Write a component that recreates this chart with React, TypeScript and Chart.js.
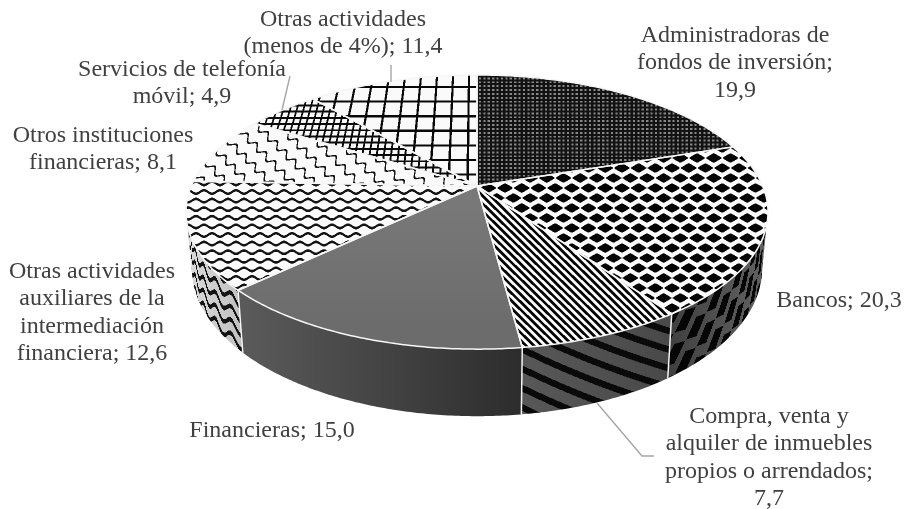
import React, { useEffect, useRef } from "react";
import { Chart, registerables } from "chart.js";

Chart.register(...registerables);

const categories = [
  "Administradoras de fondos de inversión",
  "Bancos",
  "Compra, venta y alquiler de inmuebles propios o arrendados",
  "Financieras",
  "Otras actividades auxiliares de la intermediación financiera",
  "Otros instituciones financieras",
  "Servicios de telefonía móvil",
  "Otras actividades (menos de 4%)",
];
const shares = [19.9, 20.3, 7.7, 15.0, 12.6, 8.1, 4.9, 11.4];
const patternNames = ["dots", "diamonds", "stripes", "solid", "waves", "shingle", "smallGrid", "largeGrid"];
const labelWordCounts = [[2, 3, 1], [2], [3, 3, 3, 1], [2], [2, 3, 1, 2], [2, 2], [3, 2], [2, 5]];
const labelAnchors = [
  [735, 42], [839, 307], [769, 423], [272, 437], [92, 278], [103, 142], [182, 76], [343, 26],
];

const W = 905, H = 509;
const CX = 477, APEX_Y = 186, A = 285.7, B = 96.8, G = 0.19;
const DEPTH = 54.3, SHRINK = 0.98, VANISH = 509;
const TEXT = "#404040", LEADER = "#a6a6a6";
const LEADERS = [
  [[597, 403], [642, 456], [654, 456]],
  [[290, 76], [282, 110]],
  [[391, 65], [391, 82]],
];

const rim = (t: number) => {
  const w = 1 + G * Math.cos(t);
  return { x: CX + (A * Math.sin(t)) / w, y: (APEX_Y - B * Math.cos(t)) / w, w };
};
const rimLow = (t: number) => {
  const p = rim(t);
  return { x: CX + (p.x - CX) * SHRINK, y: p.y + DEPTH / p.w };
};
const mod = (a: number, n: number) => ((a % n) + n) % n;
const wrapDist = (a: number, n: number) => {
  const m = mod(a, n);
  return Math.min(m, n - m);
};

function topInk(kind: string, X: number, Y: number): number {
  const f = (Y + VANISH) / (APEX_Y + VANISH);
  const px = (X - CX) / f;
  switch (kind) {
    case "dots": {
      const dx = wrapDist(X - 480, 4.4), dy = wrapDist(Y - 90, 3.9);
      return dx < 1.1 && dy < 0.95 ? 135 : 18;
    }
    case "diamonds": {
      const row = Math.floor((Y - 198 + 5) / 10);
      const dy = Y - 198 - row * 10;
      const dx = wrapDist(X - 647 - (mod(row, 2) ? 8.35 : 0), 16.7);
      return Math.pow(dx / 8.35, 1.1) + Math.pow(Math.abs(dy) / 5, 1.1) < 0.95 ? 5 : 252;
    }
    case "stripes":
      return mod(X - Y * 1.02, 7.8) < 3.9 ? 5 : 252;
    case "solid":
      return Math.max(108, 122 - (Y - 186) * 0.1);
    case "waves": {
      const row = Math.round((Y - 192) / 8.6);
      const c = 192 + row * 8.6 + 1.7 * Math.sin((2 * Math.PI * (X + (mod(row, 2) ? 8 : 0))) / 16);
      return Math.abs(Y - c) < 1.3 ? 20 : 250;
    }
    case "shingle": {
      const t = (X + Y) * 0.7071, n = (X - Y) * 0.7071;
      const c = wrapDist(n + 3 * Math.sin((2 * Math.PI * t) / 13), 15.5);
      return c < 1.05 ? 20 : 250;
    }
    case "smallGrid": {
      const a = wrapDist(px, 7.5), b = wrapDist(Y, 6.2);
      return a < 1 || b < 0.95 ? 10 : 248;
    }
    case "largeGrid": {
      const a = wrapDist(px + 28.5, 19), b = wrapDist(Y - 87, 14.6);
      return a < 1.25 || b < 1.1 ? 8 : 250;
    }
  }
  return 255;
}

function wallInk(kind: string, X: number, t: number, z: number): number {
  const s = t * 290;
  switch (kind) {
    case "diamonds": {
      const bg = 62 + (X - 665) * 0.35;
      const row = Math.floor((z - s * 0.55) / 20 + 0.5);
      const dz = z - s * 0.55 - row * 20;
      const ds = wrapDist(s + (mod(row, 2) ? 14 : 0), 28);
      return ds / 14 + Math.abs(dz) / 10 < 0.95 ? 6 : bg;
    }
    case "stripes": {
      const bg = 88 - (X - 519) * 0.1;
      return mod(z + s * 0.62, 18) < 6.5 ? 10 : bg;
    }
    case "solid":
      return 90 - ((X - 244) / 275) * 45;
    case "waves": {
      const bg = 218 - (X - 190) * 0.5;
      const row = Math.round(z / 13.5);
      const c = row * 13.5 + 4 * Math.sin((2 * Math.PI * s) / 30);
      return Math.abs(z - c) < 2.3 ? 20 : bg;
    }
  }
  return 128;
}

function buildCanvas(sample: (x: number, y: number) => number, x0: number, y0: number, x1: number, y1: number) {
  const c = document.createElement("canvas");
  c.width = W;
  c.height = H;
  const g = c.getContext("2d")!;
  const img = g.createImageData(W, H);
  for (let y = y0; y < y1; y++) {
    for (let x = x0; x < x1; x++) {
      const v = (sample(x + 0.25, y + 0.25) + sample(x + 0.75, y + 0.25) + sample(x + 0.25, y + 0.75) + sample(x + 0.75, y + 0.75)) / 4;
      const i = (y * W + x) * 4;
      img.data[i] = img.data[i + 1] = img.data[i + 2] = v;
      img.data[i + 3] = 255;
    }
  }
  g.putImageData(img, 0, 0);
  return c;
}

const T_RIGHT = Math.acos(-G);
const T_LEFT = 2 * Math.PI - T_RIGHT;

function wallPatterns(ctx: CanvasRenderingContext2D) {
  const table: number[] = [];
  for (let x = 0; x < W; x++) table.push(-1);
  for (let t = T_RIGHT; t <= T_LEFT; t += 0.0005) {
    const x = Math.round(CX + (rim(t).x - CX) * ((1 + SHRINK) / 2));
    if (x >= 0 && x < W && table[x] < 0) table[x] = t;
  }
  return patternNames.map((kind) => {
    const c = buildCanvas(
      (x, y) => {
        const t = table[Math.floor(x)];
        if (t < 0) return 128;
        const top = rim(t), low = rimLow(t);
        const z = ((y - top.y) / (low.y - top.y)) * 62;
        return wallInk(kind, x, t, z);
      },
      170, 200, 790, 430
    );
    return ctx.createPattern(c, "no-repeat")!;
  });
}

const pie3d = {
  id: "pie3d",
  beforeDatasetDraw(chart: any) {
    const ctx: CanvasRenderingContext2D = chart.ctx;
    const arcs = chart.getDatasetMeta(0).data;
    const walls = chart.data.datasets[0].wallFill as CanvasPattern[];
    const STEP = 0.01;
    const spans = arcs.map((a: any) => [a.startAngle + Math.PI / 2, a.endAngle + Math.PI / 2]);

    ctx.save();
    ctx.lineJoin = "round";
    spans.forEach(([t0, t1]: number[], i: number) => {
      const a = Math.max(t0, T_RIGHT), b = Math.min(t1, T_LEFT);
      if (b <= a) return;
      ctx.beginPath();
      for (let t = a; t < b; t += STEP) {
        const p = rim(t);
        ctx.lineTo(p.x, p.y);
      }
      const e = rim(b);
      ctx.lineTo(e.x, e.y);
      for (let t = b; t > a; t -= STEP) {
        const p = rimLow(t);
        ctx.lineTo(p.x, p.y);
      }
      const l = rimLow(a);
      ctx.lineTo(l.x, l.y);
      ctx.closePath();
      ctx.fillStyle = walls[i];
      ctx.fill();
    });
    ctx.strokeStyle = "#f4f4f4";
    ctx.lineWidth = 1.5;
    spans.forEach(([t0]: number[]) => {
      if (t0 > T_RIGHT && t0 < T_LEFT) {
        const p = rim(t0), q = rimLow(t0);
        ctx.beginPath();
        ctx.moveTo(p.x, p.y);
        ctx.lineTo(q.x, q.y);
        ctx.stroke();
      }
    });
    const face = (t0: number, t1: number) => {
      ctx.beginPath();
      ctx.moveTo(CX, APEX_Y);
      for (let t = t0; t < t1; t += STEP) {
        const p = rim(t);
        ctx.lineTo(p.x, p.y);
      }
      const e = rim(t1);
      ctx.lineTo(e.x, e.y);
      ctx.closePath();
    };
    arcs.forEach((arc: any, i: number) => {
      face(spans[i][0], spans[i][1]);
      ctx.fillStyle = arc.options.backgroundColor;
      ctx.fill();
    });
    arcs.forEach((arc: any, i: number) => {
      face(spans[i][0], spans[i][1]);
      ctx.strokeStyle = arc.options.borderColor;
      ctx.lineWidth = arc.options.borderWidth;
      ctx.stroke();
    });
    ctx.restore();
    return false;
  },
  afterDraw(chart: any) {
    const ctx: CanvasRenderingContext2D = chart.ctx;
    ctx.save();
    ctx.strokeStyle = LEADER;
    ctx.lineWidth = 1.4;
    LEADERS.forEach((pts) => {
      ctx.beginPath();
      pts.forEach(([x, y]) => ctx.lineTo(x, y));
      ctx.stroke();
    });
    ctx.font = '24px "Liberation Serif"';
    ctx.fillStyle = TEXT;
    ctx.textAlign = "center";
    ctx.textBaseline = "alphabetic";
    categories.forEach((name, i) => {
      const words = `${name}; ${shares[i].toFixed(1).replace(".", ",")}`.split(" ");
      let k = 0;
      labelWordCounts[i].forEach((n, row) => {
        const line = words.slice(k, k + n).join(" ");
        k += n;
        ctx.fillText(line, labelAnchors[i][0], labelAnchors[i][1] + row * 27.3);
      });
    });
    ctx.restore();
  },
};

export default function App() {
  const ref = useRef<HTMLCanvasElement>(null);
  useEffect(() => {
    document.body.style.margin = "0";
    const canvas = ref.current!;
    const ctx = canvas.getContext("2d")!;
    const tops = patternNames.map((kind) =>
      ctx.createPattern(buildCanvas((x, y) => topInk(kind, x, y), 180, 70, 775, 355), "no-repeat")!
    );
    const chart: any = new Chart(canvas, {
      type: "pie",
      data: {
        labels: categories,
        datasets: [{ data: shares, backgroundColor: tops as any, borderColor: "#f6f6f6", borderWidth: 1.5, wallFill: wallPatterns(ctx) } as any],
      },
      options: {
        animation: false,
        responsive: false,
        devicePixelRatio: 1,
        events: [],
        plugins: { legend: { display: false }, tooltip: { enabled: false } },
      } as any,
      plugins: [pie3d as any],
    });
    return () => chart.destroy();
  }, []);
  return <canvas ref={ref} width={W} height={H} style={{ display: "block", filter: "blur(0.4px)" }} />;
}
